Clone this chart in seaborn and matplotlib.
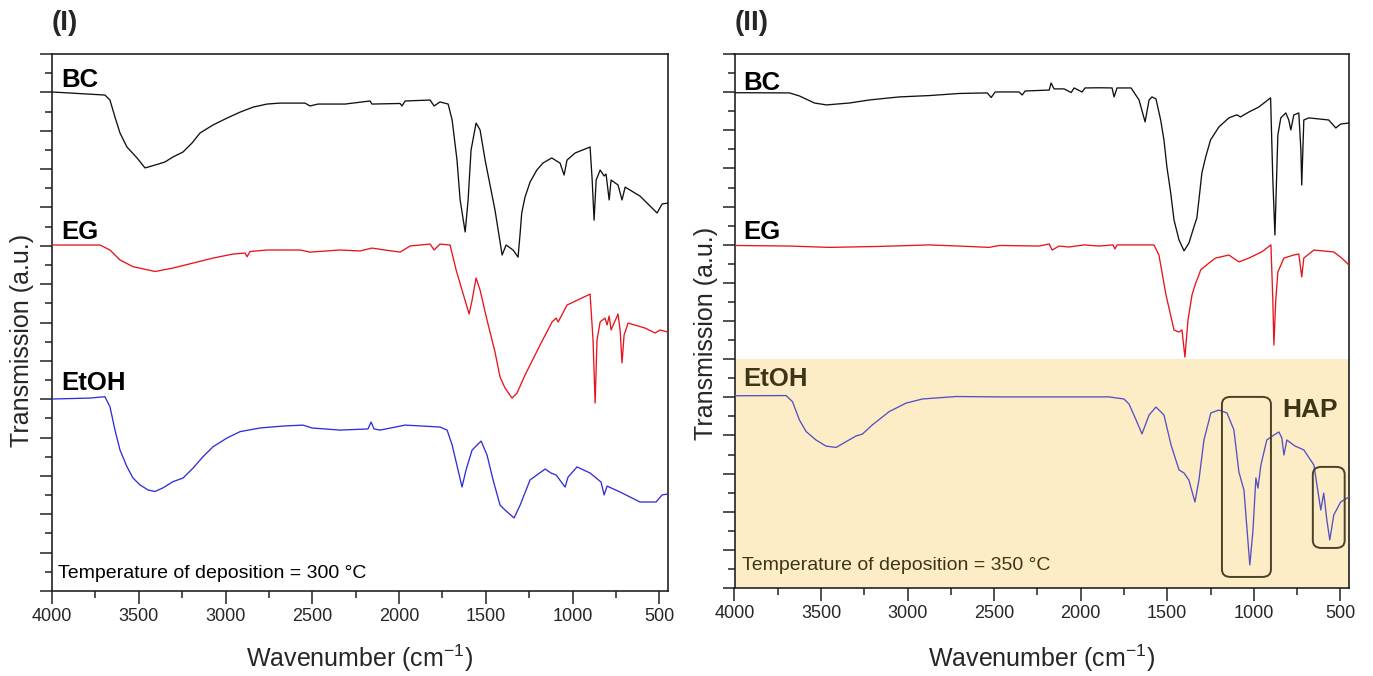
import numpy as np
import pandas as pd
import matplotlib
matplotlib.use("Agg")
import matplotlib.pyplot as plt
import seaborn as sns
from matplotlib.patches import FancyBboxPatch
from matplotlib.ticker import MultipleLocator

# ---------------- data (wavenumber in cm-1, transmission in a.u., offset stacked) ----------------
# Panel (I): 300 C
p1_bc_w = [4000, 3695, 3666, 3637, 3608, 3568, 3510, 3464, 3406, 3349,
           3303, 3245, 3193, 3147, 3072, 2991, 2916, 2841, 2761, 2686,
           2542, 2513, 2467, 2311, 2167, 2156, 1994, 1983, 1965, 1821,
           1798, 1764, 1717, 1694, 1666, 1648, 1619, 1602, 1585, 1556,
           1533, 1504, 1447, 1406, 1383, 1343, 1314, 1302, 1293, 1274,
           1245, 1206, 1170, 1120, 1072, 1049, 1032, 985, 899, 887,
           876, 864, 841, 818, 807, 789, 778, 738, 715, 697,
           611, 513, 484, 449]
p1_bc_t = [26.02, 25.86, 25.60, 24.71, 23.88, 23.15, 22.58, 22.06, 22.21, 22.37,
           22.63, 22.89, 23.36, 23.88, 24.30, 24.66, 24.97, 25.23, 25.39, 25.44,
           25.44, 25.29, 25.39, 25.39, 25.55, 25.39, 25.42, 25.29, 25.55, 25.60,
           25.29, 25.50, 25.39, 24.56, 22.47, 20.39, 18.72, 20.39, 22.99, 24.40,
           24.04, 22.47, 19.86, 17.52, 18.04, 17.78, 17.41, 18.67, 19.71, 20.54,
           21.32, 21.95, 22.32, 22.58, 22.31, 21.69, 22.47, 22.84, 23.15, 21.43,
           19.34, 21.43, 21.95, 21.64, 21.74, 20.39, 21.43, 21.17, 20.39, 21.06,
           20.59, 19.71, 20.18, 20.23]

p1_eg_w = [4000, 3723, 3666, 3608, 3533, 3406, 3303, 3187, 3072, 2956,
           2887, 2876, 2859, 2761, 2570, 2513, 2340, 2225, 2156, 2081,
           1994, 1936, 1821, 1798, 1764, 1706, 1671, 1637, 1596, 1579,
           1556, 1533, 1493, 1447, 1418, 1389, 1349, 1320, 1274, 1187,
           1118, 1095, 1083, 1032, 899, 882, 870, 859, 841, 813,
           801, 789, 778, 738, 726, 715, 703, 680, 582, 524,
           496, 449]
p1_eg_t = [18.04, 18.04, 17.78, 17.26, 16.91, 16.66, 16.84, 17.10, 17.36, 17.57,
           17.62, 17.43, 17.70, 17.78, 17.78, 17.67, 17.78, 17.73, 17.88, 17.78,
           17.67, 17.99, 18.09, 17.78, 18.09, 18.04, 16.74, 15.69, 14.44, 15.17,
           16.32, 15.69, 14.13, 12.46, 11.16, 10.58, 10.06, 10.32, 11.26, 12.83,
           14.03, 14.23, 14.03, 14.91, 15.48, 13.09, 9.80, 13.09, 14.03, 14.23,
           13.87, 14.34, 13.61, 14.44, 13.61, 11.89, 13.35, 13.97, 13.71, 13.45,
           13.61, 13.50]

p1_et_w = [4000, 3781, 3723, 3695, 3666, 3637, 3608, 3568, 3533, 3493,
           3447, 3406, 3360, 3303, 3245, 3187, 3130, 3072, 2991, 2916,
           2801, 2669, 2554, 2501, 2340, 2179, 2161, 2144, 2109, 1965,
           1764, 1723, 1694, 1660, 1637, 1614, 1579, 1527, 1493, 1458,
           1418, 1389, 1337, 1302, 1245, 1158, 1124, 1095, 1043, 1026,
           974, 899, 836, 818, 801, 726, 611, 519, 484, 449]
p1_et_t = [10.01, 10.06, 10.11, 10.13, 9.61, 8.39, 7.35, 6.48, 5.89, 5.53,
           5.27, 5.19, 5.38, 5.70, 5.89, 6.41, 7.00, 7.52, 7.98, 8.31,
           8.50, 8.60, 8.65, 8.50, 8.39, 8.45, 8.81, 8.45, 8.39, 8.65,
           8.55, 8.39, 7.61, 6.31, 5.42, 6.31, 7.35, 7.82, 7.09, 5.79,
           4.48, 4.22, 3.81, 4.48, 5.79, 6.36, 6.15, 6.05, 5.42, 5.94,
           6.47, 6.15, 5.68, 5.01, 5.47, 5.16, 4.64, 4.64, 5.01, 5.06]

# Panel (II): 350 C
p2_bc_w = [4000, 3683, 3625, 3538, 3469, 3336, 3221, 3048, 2875, 2702,
           2540, 2517, 2494, 2356, 2338, 2321, 2182, 2171, 2154, 2096,
           2055, 2038, 1992, 1975, 1894, 1819, 1807, 1790, 1709, 1663,
           1628, 1605, 1588, 1565, 1538, 1519, 1502, 1480, 1461, 1432,
           1403, 1375, 1346, 1329, 1317, 1300, 1278, 1250, 1202, 1144,
           1098, 1077, 1028, 971, 903, 890, 878, 861, 844, 815,
           798, 786, 769, 740, 728, 723, 711, 682, 567, 526,
           498, 451]
p2_bc_t = [25.97, 25.96, 25.80, 25.43, 25.33, 25.43, 25.59, 25.75, 25.82, 25.93,
           25.96, 25.72, 26.01, 26.01, 25.85, 26.06, 26.11, 26.48, 26.17, 26.17,
           25.98, 26.22, 26.01, 26.22, 26.23, 26.22, 25.75, 26.22, 26.22, 25.59,
           24.44, 25.59, 25.75, 25.64, 24.54, 23.49, 22.08, 20.71, 19.30, 18.25,
           17.68, 18.08, 18.93, 19.40, 20.35, 21.76, 22.60, 23.49, 24.17, 24.65,
           24.81, 24.70, 24.96, 25.22, 25.70, 21.40, 18.51, 23.75, 24.65, 24.91,
           24.54, 24.02, 24.80, 24.91, 22.97, 21.13, 24.54, 24.65, 24.54, 24.12,
           24.33, 24.38]

p2_eg_w = [4000, 3683, 3452, 3163, 2875, 2702, 2529, 2471, 2240, 2182,
           2165, 2125, 2067, 1980, 1894, 1813, 1802, 1790, 1577, 1548,
           1507, 1461, 1432, 1415, 1398, 1380, 1357, 1336, 1317, 1307,
           1259, 1221, 1144, 1086, 1028, 953, 901, 890, 884, 873,
           861, 826, 769, 740, 728, 723, 711, 653, 538, 492,
           451]
p2_eg_t = [17.96, 17.93, 17.86, 17.91, 17.99, 17.93, 17.86, 17.96, 17.93, 18.04,
           17.72, 17.93, 17.88, 17.99, 17.93, 17.99, 17.78, 17.99, 17.99, 17.46,
           15.36, 13.53, 13.42, 13.53, 12.11, 14.05, 15.36, 15.99, 16.41, 16.68,
           17.04, 17.30, 17.46, 17.10, 17.30, 17.63, 17.99, 15.10, 12.74, 15.10,
           16.57, 17.30, 17.46, 17.51, 16.67, 16.31, 17.30, 17.72, 17.62, 17.30,
           16.94]

p2_et_w = [4000, 3702, 3665, 3625, 3586, 3529, 3471, 3413, 3356, 3298,
           3261, 3204, 3106, 3010, 2915, 2721, 2471, 2182, 1836, 1750,
           1721, 1680, 1646, 1605, 1565, 1519, 1478, 1432, 1403, 1375,
           1340, 1317, 1288, 1248, 1202, 1155, 1115, 1086, 1057, 1023,
           1005, 988, 976, 959, 925, 884, 855, 838, 826, 809,
           763, 711, 653, 636, 613, 596, 578, 561, 538, 498,
           451]
p2_et_t = [10.08, 10.09, 9.77, 8.81, 8.20, 7.76, 7.44, 7.37, 7.67, 7.97,
           8.07, 8.55, 9.25, 9.69, 9.91, 10.04, 10.02, 10.02, 10.02, 9.91,
           9.65, 8.81, 8.08, 9.07, 9.49, 9.07, 7.50, 6.19, 6.03, 5.66,
           4.51, 5.66, 7.76, 9.18, 9.33, 9.18, 8.29, 6.08, 5.14, 1.21,
           3.00, 5.77, 5.24, 6.45, 7.76, 8.02, 8.18, 7.87, 6.97, 7.76,
           7.45, 7.24, 6.45, 5.45, 4.09, 4.98, 3.57, 2.52, 3.83, 4.51,
           4.77]

sample_labels = ["BC", "EG", "EtOH"]
panel_labels = ["(I)", "(II)"]
temperatures = ["300", "350"]
x_ticks = [4000, 3500, 3000, 2500, 2000, 1500, 1000, 500]
# highlighted HAP regions in panel (II): (w_high, w_low, t_low, t_high)
hap_boxes = [(1184, 901, 0.58, 10.02), (659, 475, 2.10, 6.35)]
shade_range = (0, 12)

# ---------------- styling ----------------
sns.set_style("ticks")
plt.rcParams["font.family"] = ["Liberation Sans", "DejaVu Sans"]
plt.rcParams["mathtext.fontset"] = "custom"
plt.rcParams["mathtext.rm"] = "Liberation Sans"
plt.rcParams["mathtext.it"] = "Liberation Sans:italic"
plt.rcParams["mathtext.bf"] = "Liberation Sans:bold"

c_bc, c_eg, c_et1, c_et2 = "#111111", "#e8141c", "#2f2fd8", "#5650c4"
olive = "#3e3519"
shade_col = "#fcedc7"

fig = plt.figure(figsize=(13.73, 6.76), dpi=100)
ax1 = fig.add_axes([52 / 1373, 1 - 591 / 676, 616 / 1373, 537 / 676])
ax2 = fig.add_axes([734.5 / 1373, 1 - 588 / 676, 614.5 / 1373, 534 / 676])

panels = [
    (ax1, [(p1_bc_w, p1_bc_t, c_bc), (p1_eg_w, p1_eg_t, c_eg), (p1_et_w, p1_et_t, c_et1)]),
    (ax2, [(p2_bc_w, p2_bc_t, c_bc), (p2_eg_w, p2_eg_t, c_eg), (p2_et_w, p2_et_t, c_et2)]),
]

for i, (ax, series) in enumerate(panels):
    if i == 1:
        ax.axhspan(shade_range[0], shade_range[1], color=shade_col, lw=0, zorder=0)
    for w, t, col in series:
        df = pd.DataFrame({"w": w, "t": t})
        sns.lineplot(data=df, x="w", y="t", ax=ax, color=col, lw=0.95,
                     estimator=None, sort=True, legend=False, zorder=3)
    ax.set_xlim(4000, 450)
    ax.set_ylim(0, 28)
    ax.set_xticks(x_ticks)
    ax.set_xticklabels([str(v) for v in x_ticks])
    ax.xaxis.set_minor_locator(MultipleLocator(250))
    ax.yaxis.set_major_locator(MultipleLocator(2))
    ax.yaxis.set_minor_locator(MultipleLocator(1))
    ax.set_yticklabels([])
    ax.tick_params(axis="both", which="major", direction="out", length=9, width=1.1,
                   color="#222222", labelsize=13, pad=3)
    ax.tick_params(axis="both", which="minor", direction="out", length=5, width=1.1,
                   color="#222222")
    ax.tick_params(top=False, right=False, which="both")
    for s in ax.spines.values():
        s.set_visible(True)
        s.set_linewidth(1.2)
        s.set_color("#222222")
    ax.set_xlabel("Wavenumber (cm$^{-1}$)", fontsize=18)
    ax.set_ylabel("Transmission (a.u.)", fontsize=18)
    ax.xaxis.label.set_va("center")
    ax.yaxis.label.set_va("center")
    ax.grid(False)

ax1.xaxis.set_label_coords(0.5, -0.125)
ax2.xaxis.set_label_coords(0.5, -0.131)
ax1.yaxis.set_label_coords(-0.048, 0.467)
ax2.yaxis.set_label_coords(-0.047, 0.476)

# sample labels
lab_y1 = [0.952, 0.668, 0.387]
lab_y2 = [0.946, 0.667, 0.391]
for k, name in enumerate(sample_labels):
    ax1.text(0.015, lab_y1[k], name, transform=ax1.transAxes, fontsize=18.5,
             fontweight="bold", va="center", ha="left", color="black")
    ax2.text(0.014, lab_y2[k], name, transform=ax2.transAxes, fontsize=18.5,
             fontweight="bold", va="center", ha="left",
             color=olive if name == "EtOH" else "black")

ax1.text(0.010, 0.032, f"Temperature of deposition = {temperatures[0]} \u00b0C",
         transform=ax1.transAxes, fontsize=14, va="center", ha="left", color="black")
ax2.text(0.012, 0.043, f"Temperature of deposition = {temperatures[1]} \u00b0C",
         transform=ax2.transAxes, fontsize=14, va="center", ha="left", color=olive)

# panel labels
fig.text(52 / 1373, 1 - 23 / 676, panel_labels[0], fontsize=20, fontweight="bold",
         ha="left", va="center")
fig.text(735 / 1373, 1 - 23 / 676, panel_labels[1], fontsize=20, fontweight="bold",
         ha="left", va="center")

# HAP boxes
to_axes = ax2.transData + ax2.transAxes.inverted()
for (wh, wl, tl, th) in hap_boxes:
    (x0, y0) = to_axes.transform((wh, tl))
    (x1, y1) = to_axes.transform((wl, th))
    box = FancyBboxPatch((x0, y0), x1 - x0, y1 - y0,
                         boxstyle="round,pad=0,rounding_size=0.014",
                         transform=ax2.transAxes, fill=False,
                         ec="#4a4226", lw=1.4, zorder=4)
    ax2.add_patch(box)
ax2.text(838, 9.33, "HAP", fontsize=19, fontweight="bold", color=olive,
         ha="left", va="center", zorder=5)

fig.savefig("out.png", dpi=100)
